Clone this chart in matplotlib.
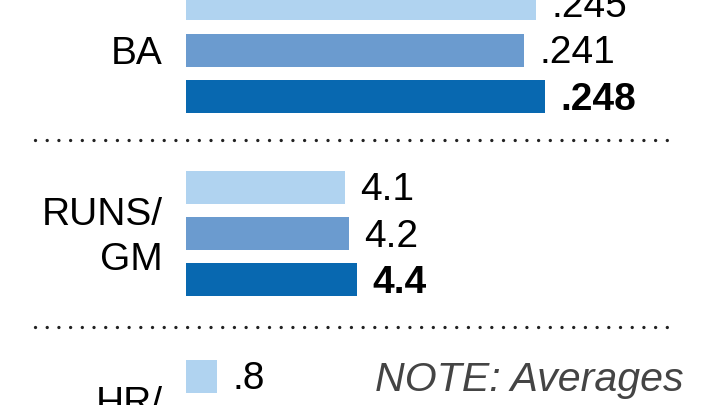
import matplotlib
matplotlib.use("Agg")
import matplotlib.pyplot as plt
from matplotlib.lines import Line2D

plt.rcParams['font.family'] = ['Liberation Sans', 'DejaVu Sans']

# three seasons per stat, last one is the current (bold)
colors = ['#b0d3f0', '#6b9bcf', '#0868b0']

ba_vals = [0.245, 0.241, 0.248]
ba_labels = ['.245', '.241', '.248']

runs_vals = [4.1, 4.2, 4.4]
runs_labels = ['4.1', '4.2', '4.4']

hr_vals = [0.8]
hr_labels = ['.8']

W, H = 720, 405
fig = plt.figure(figsize=(7.2, 4.05), dpi=100)

pitch = 46.3
bar_left = 186


def group_axes(center0_px, xmin, px_per_unit):
    top = center0_px - pitch / 2
    h = 3 * pitch
    ax = fig.add_axes([bar_left / W, (H - top - h) / H, (W - bar_left) / W, h / H])
    ax.set_xlim(xmin, xmin + (W - bar_left) / px_per_unit)
    ax.set_ylim(2.5, -0.5)
    ax.axis('off')
    return ax


def draw(ax, vals, labels, name):
    bars = ax.barh(range(len(vals)), vals, height=33 / pitch,
                   color=colors[:len(vals)], left=0)
    for i, (b, lab) in enumerate(zip(bars, labels)):
        ax.annotate(lab, (b.get_width(), i), xytext=(11, -2.5),
                    textcoords='offset points', va='center', ha='left',
                    fontsize=28, fontweight='bold' if i == 2 else 'normal',
                    color='black')
    ax.annotate(name, (0, 1), xycoords=('axes fraction', 'data'),
                xytext=(-17, -3), textcoords='offset points',
                ha='right', va='center', fontsize=28, linespacing=1.32,
                annotation_clip=False)


ax_ba = group_axes(3.7, 0.1283, 3000)
draw(ax_ba, ba_vals, ba_labels, 'BA')

ax_runs = group_axes(187, 0, 38.8)
draw(ax_runs, runs_vals, runs_labels, 'RUNS/\nGM')

ax_hr = group_axes(376, 0, 38.8)
draw(ax_hr, hr_vals, hr_labels, 'HR/\nGM')

# dotted separators
for y in [140, 327]:
    fig.add_artist(Line2D([35 / W, 675 / W], [1 - y / H, 1 - y / H],
                          transform=fig.transFigure, color='#222222',
                          linewidth=2.4, linestyle=(0, (0.01, 3.5)),
                          dash_capstyle='round'))

fig.text(375 / W, 1 - 380 / H, 'NOTE: Averages', fontsize=29.6, style='italic',
         color='#444444', ha='left', va='center')

fig.savefig('out.png', dpi=100)
